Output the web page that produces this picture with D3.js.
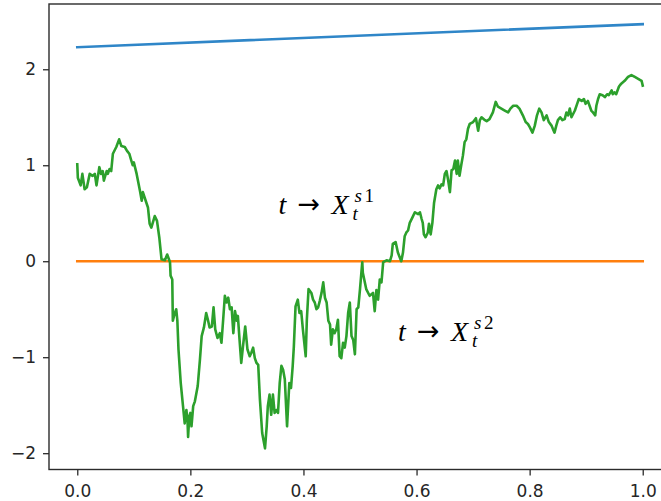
<!DOCTYPE html>
<html>
<head>
<meta charset="utf-8">
<script src="https://cdn.jsdelivr.net/npm/d3@7"></script>
<style>
  html, body { margin: 0; padding: 0; background: #fff; }
  svg { display: block; }
  .tick text { font-family: "DejaVu Sans", sans-serif; font-size: 17px; fill: #262626; }
  .math { font-family: "Liberation Serif", "DejaVu Serif", serif; fill: #000; }
</style>
</head>
<body>
<svg id="chart" width="661" height="501"></svg>
<script>
// Time grid of the sampled path (t in [0, 1])
const pathT = [
  0, 0.001, 0.006, 0.009, 0.013, 0.017, 0.022, 0.027, 0.031, 0.034, 0.039, 0.042, 0.045, 0.047, 0.052, 0.054, 0.057, 0.060,
  0.063, 0.069, 0.074, 0.078, 0.084, 0.088, 0.092, 0.094, 0.098, 0.100, 0.105, 0.111, 0.114, 0.116, 0.121, 0.125, 0.128,
  0.131, 0.137, 0.141, 0.145, 0.149, 0.155, 0.159, 0.164, 0.165, 0.168, 0.169, 0.172, 0.175, 0.177, 0.179, 0.183, 0.187,
  0.190, 0.193, 0.195, 0.196, 0.198, 0.200, 0.202, 0.205, 0.208, 0.213, 0.217, 0.220, 0.224, 0.228, 0.231, 0.234, 0.238,
  0.241, 0.244, 0.248, 0.252, 0.255, 0.258, 0.261, 0.264, 0.267, 0.270, 0.273, 0.276, 0.279, 0.282, 0.284, 0.287, 0.290,
  0.293, 0.297, 0.301, 0.305, 0.308, 0.311, 0.314, 0.317, 0.320, 0.323, 0.327, 0.332, 0.335, 0.337, 0.340, 0.343, 0.346,
  0.349, 0.352, 0.355, 0.358, 0.361, 0.364, 0.367, 0.371, 0.375, 0.378, 0.381, 0.383, 0.386, 0.390, 0.393, 0.396, 0.399,
  0.404, 0.406, 0.409, 0.414, 0.417, 0.420, 0.423, 0.426, 0.429, 0.432, 0.435, 0.438, 0.441, 0.444, 0.447, 0.449, 0.452,
  0.455, 0.458, 0.461, 0.464, 0.467, 0.470, 0.473, 0.476, 0.479, 0.482, 0.485, 0.488, 0.491, 0.494, 0.497, 0.500, 0.504,
  0.505, 0.511, 0.517, 0.523, 0.526, 0.529, 0.532, 0.535, 0.538, 0.541, 0.547, 0.553, 0.556, 0.558, 0.563, 0.567, 0.573,
  0.576, 0.579, 0.582, 0.585, 0.588, 0.593, 0.597, 0.603, 0.606, 0.609, 0.611, 0.613, 0.616, 0.620, 0.622, 0.625, 0.628,
  0.631, 0.635, 0.638, 0.641, 0.644, 0.647, 0.650, 0.653, 0.656, 0.659, 0.662, 0.665, 0.668, 0.671, 0.673, 0.676, 0.679,
  0.682, 0.685, 0.688, 0.691, 0.694, 0.700, 0.705, 0.709, 0.712, 0.715, 0.721, 0.724, 0.729, 0.735, 0.740, 0.744, 0.750,
  0.756, 0.762, 0.766, 0.771, 0.777, 0.782, 0.788, 0.793, 0.797, 0.800, 0.805, 0.809, 0.813, 0.817, 0.821, 0.825, 0.830,
  0.834, 0.839, 0.841, 0.844, 0.847, 0.850, 0.854, 0.858, 0.862, 0.865, 0.868, 0.871, 0.874, 0.880, 0.884, 0.887, 0.892,
  0.896, 0.899, 0.903, 0.906, 0.909, 0.912, 0.916, 0.918, 0.921, 0.924, 0.929, 0.933, 0.937, 0.940, 0.945, 0.947, 0.950,
  0.953, 0.958, 0.962, 0.968, 0.974, 0.980, 0.986, 0.992, 0.998, 1.000
];

// Values of the random path X_t at those times
const pathX = [
  1.01, 0.87, 0.79, 0.91, 0.75, 0.77, 0.91, 0.89, 0.91, 0.79, 0.98, 0.91, 0.94, 0.84, 0.94, 0.91, 0.96, 0.94,
  1.12, 1.19, 1.27, 1.20, 1.19, 1.15, 1.12, 1.08, 1.00, 1.03, 0.91, 0.73, 0.63, 0.72, 0.63, 0.56, 0.39,
  0.35, 0.47, 0.42, 0.25, 0.02, 0.01, 0.07, -0.01, -0.15, -0.19, -0.62, -0.55, -0.50, -0.62, -0.92, -1.27, -1.51,
  -1.69, -1.55, -1.67, -1.83, -1.62, -1.58, -1.72, -1.51, -1.46, -1.30, -1.02, -0.78, -0.69, -0.54, -0.61, -0.69, -0.68,
  -0.48, -0.71, -0.80, -0.75, -0.85, -0.61, -0.36, -0.43, -0.38, -0.50, -0.48, -0.75, -0.52, -0.62, -0.57, -0.82, -1.06,
  -0.89, -0.68, -0.92, -0.99, -0.95, -0.90, -1.01, -1.06, -1.08, -1.44, -1.79, -1.95, -1.72, -1.51, -1.39, -1.60, -1.39,
  -1.58, -1.55, -1.58, -1.27, -1.09, -1.13, -1.23, -1.72, -1.27, -1.32, -1.09, -0.89, -0.47, -0.40, -0.54, -0.52, -0.71,
  -0.99, -0.61, -0.29, -0.33, -0.40, -0.43, -0.50, -0.48, -0.41, -0.33, -0.22, -0.38, -0.43, -0.62, -0.66, -0.87, -0.71,
  -0.75, -0.71, -0.61, -0.99, -1.01, -0.85, -0.90, -0.78, -0.54, -0.43, -0.78, -0.82, -0.97, -0.50, -0.48, -0.29, -0.01,
  -0.12, -0.29, -0.36, -0.33, -0.52, -0.30, -0.40, -0.19, -0.22, -0.01, 0.01, 0.00, 0.06, 0.18, 0.20, 0.09, 0.00,
  0.09, 0.26, 0.30, 0.32, 0.40, 0.46, 0.51, 0.49, 0.51, 0.44, 0.40, 0.28, 0.25, 0.30, 0.39, 0.28, 0.40,
  0.61, 0.75, 0.79, 0.76, 0.80, 0.79, 0.91, 0.94, 0.84, 0.72, 0.95, 0.96, 1.05, 0.91, 1.05, 0.89, 1.00,
  1.10, 1.24, 1.27, 1.38, 1.43, 1.45, 1.49, 1.36, 1.47, 1.50, 1.47, 1.46, 1.48, 1.55, 1.66, 1.61, 1.59,
  1.57, 1.55, 1.59, 1.62, 1.62, 1.59, 1.52, 1.45, 1.43, 1.40, 1.34, 1.41, 1.52, 1.59, 1.55, 1.47, 1.52,
  1.45, 1.41, 1.38, 1.34, 1.41, 1.47, 1.50, 1.47, 1.48, 1.55, 1.52, 1.59, 1.50, 1.57, 1.64, 1.69, 1.67,
  1.69, 1.64, 1.67, 1.62, 1.57, 1.55, 1.52, 1.62, 1.69, 1.74, 1.73, 1.71, 1.74, 1.73, 1.78, 1.74, 1.76,
  1.74, 1.82, 1.85, 1.88, 1.92, 1.94, 1.92, 1.90, 1.88, 1.83
];

// Deterministic paths: a slowly rising one and the constant zero path
const risingT = [0, 1];
const risingX = [2.23, 2.47];
const zeroT = [0, 1];
const zeroX = [0, 0];

// Axis tick values
const xTicks = [0.0, 0.2, 0.4, 0.6, 0.8, 1.0];
const yTicks = [-2, -1, 0, 1, 2];

// Annotations: superscript index and anchor (t, x) of each label
const labelIdx = ["1", "2"];
const labelAt = [[0.356, 0.49], [0.567, -0.83]];

const svg = d3.select("#chart");
const plot = { left: 49, right: 671, top: 4, bottom: 469.5 };

const x = d3.scaleLinear().domain([-0.05, 1.05]).range([plot.left, plot.right]);
const y = d3.scaleLinear().domain([-2.17, 2.68]).range([plot.bottom, plot.top]);

svg.append("defs").append("clipPath").attr("id", "plotclip")
  .append("rect")
  .attr("x", plot.left).attr("y", plot.top)
  .attr("width", plot.right - plot.left).attr("height", plot.bottom - plot.top);

const line = d3.line()
  .x(d => x(d[0]))
  .y(d => y(d[1]));

const series = [
  { t: risingT, v: risingX, color: "#2f86c8" },
  { t: zeroT, v: zeroX, color: "#ff7f0e" },
  { t: pathT, v: pathX, color: "#2ca02c" }
];

const g = svg.append("g").attr("clip-path", "url(#plotclip)");
series.forEach(s => {
  g.append("path")
    .datum(d3.zip(s.t, s.v))
    .attr("d", line)
    .attr("fill", "none")
    .attr("stroke", s.color)
    .attr("stroke-width", 2.6)
    .attr("stroke-linejoin", "round")
    .attr("stroke-linecap", "square");
});

// Frame
svg.append("rect")
  .attr("x", plot.left).attr("y", plot.top)
  .attr("width", plot.right - plot.left).attr("height", plot.bottom - plot.top)
  .attr("fill", "none").attr("stroke", "#2b2b2b").attr("stroke-width", 1.4);

// Axes
const xAxis = d3.axisBottom(x).tickValues(xTicks).tickFormat(d3.format(".1f"))
  .tickSize(6).tickPadding(7);
const yAxis = d3.axisLeft(y).tickValues(yTicks).tickFormat(d3.format("d"))
  .tickSize(6).tickPadding(7);

const gx = svg.append("g").attr("transform", `translate(0,${plot.bottom})`).call(xAxis);
const gy = svg.append("g").attr("transform", `translate(${plot.left},0)`).call(yAxis);
[gx, gy].forEach(a => {
  a.select(".domain").remove();
  a.selectAll(".tick line").attr("stroke", "#2b2b2b").attr("stroke-width", 1.3);
});
gx.selectAll(".tick text").attr("dy", "0.85em");

// Annotations t -> X_t^{s i}, each set as one text element
labelAt.forEach((p, i) => {
  const ax = x(p[0]), ay = y(p[1]);
  const t = svg.append("text").attr("class", "math")
    .attr("x", ax).attr("y", ay).attr("font-size", 28);
  t.append("tspan").attr("font-style", "italic").text("t");
  t.append("tspan").attr("x", ax + 19).attr("y", ay - 1)
    .attr("font-family", "DejaVu Sans, sans-serif").attr("font-size", 27).text("→");
  t.append("tspan").attr("x", ax + 53).attr("y", ay)
    .attr("font-style", "italic").text("X");
  t.append("tspan").attr("x", ax + 74).attr("y", ay + 6)
    .attr("font-size", 19).attr("font-style", "italic").text("t");
  t.append("tspan").attr("x", ax + 76).attr("y", ay - 12)
    .attr("font-size", 19).attr("font-style", "italic").text("s");
  t.append("tspan").attr("x", ax + 86).attr("y", ay - 12)
    .attr("font-size", 19).text(labelIdx[i]);
});
</script>
</body>
</html>
